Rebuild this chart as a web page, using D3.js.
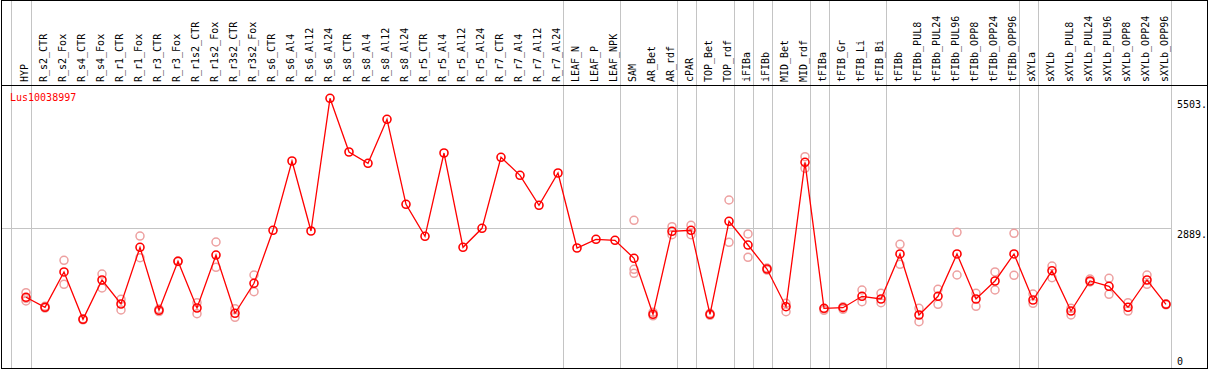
<!DOCTYPE html>
<html>
<head>
<meta charset="utf-8">
<script src="https://cdn.jsdelivr.net/npm/d3@7"></script>
<style>
  body { margin: 0; background: #fff; }
  svg { display: block; }
</style>
</head>
<body>
<div id="chart"></div>
<script>
// expression profile, one gene, means + replicates per sample

const geneName = "Lus10038997";

const samples = ["HYP", "R_s2_CTR", "R_s2_Fox", "R_s4_CTR", "R_s4_Fox", "R_r1_CTR", "R_r1_Fox",
    "R_r3_CTR", "R_r3_Fox", "R_r1s2_CTR", "R_r1s2_Fox", "R_r3s2_CTR", "R_r3s2_Fox",
    "R_s6_CTR", "R_s6_Al4", "R_s6_Al12", "R_s6_Al24", "R_s8_CTR", "R_s8_Al4", "R_s8_Al12", "R_s8_Al24",
    "R_r5_CTR", "R_r5_Al4", "R_r5_Al12", "R_r5_Al24", "R_r7_CTR", "R_r7_Al4", "R_r7_Al12", "R_r7_Al24",
    "LEAF_N", "LEAF_P", "LEAF_NPK", "SAM", "AR_Bet", "AR_rdf", "cPAR", "TOP_Bet", "TOP_rdf",
    "iFIBa", "iFIBb", "MID_Bet", "MID_rdf", "tFIBa", "tFIB_Gr", "tFIB_Li", "tFIB_Bi", "tFIBb",
    "tFIBb_PUL8", "tFIBb_PUL24", "tFIBb_PUL96", "tFIBb_OPP8", "tFIBb_OPP24", "tFIBb_OPP96",
    "sXYLa", "sXYLb", "sXYLb_PUL8", "sXYLb_PUL24", "sXYLb_PUL96", "sXYLb_OPP8", "sXYLb_OPP24", "sXYLb_OPP96"];

const means = [1502, 1301, 2011, 1060, 1850, 1367, 2507,
    1241, 2226, 1287, 2352, 1180, 1783,
    2849, 4242, 2835, 5503, 4423, 4196, 5081, 3372,
    2728, 4403, 2507, 2889, 4317, 3955, 3352, 4001,
    2493, 2668, 2648, 2286, 1160, 2829, 2849, 1160, 3030,
    2553, 2071, 1313, 4216, 1281, 1293, 1522, 1468, 2373,
    1146, 1522, 2373, 1468, 1830, 2373,
    1448, 2037, 1226, 1830, 1723, 1301, 1850, 1361];

const replicates = [
    [1595, 1428, 1480], [1320, 1285], [2246, 1763], [1070, 1050], [1970, 1689], [1462, 1247], [2734, 2298],
    [1267, 1216], [2230, 2220], [1393, 1172], [2614, 2105], [1273, 1100], [1950, 1614],
    [], [], [], [], [], [], [], [],
    [], [], [], [], [], [], [], [],
    [], [], [], [3050, 2065, 1984], [1200, 1130], [2921, 2761], [2949, 2761], [1180, 1140], [3458, 2608],
    [2775, 2306], [2090, 2050], [1381, 1212], [4329, 4096], [1265, 1240], [1310, 1260], [1649, 1413], [1582, 1393], [2568, 2165],
    [1281, 1011], [1663, 1361], [2809, 1950], [1582, 1321], [2011, 1649], [2789, 1944],
    [1568, 1381], [2131, 1896], [1281, 1146], [1870, 1810], [1884, 1562], [1393, 1226], [1950, 1763], [1370, 1350]
];

// last sample of each tissue group (a grid line follows it)
const groupEnds = ["HYP", "R_r7_Al24", "LEAF_NPK", "AR_rdf", "cPAR", "TOP_rdf", "iFIBa", "iFIBb",
    "MID_rdf", "tFIBa", "tFIB_Bi", "tFIBb_OPP96", "sXYLa", "sXYLb_OPP96"];

const yTicks = [5503, 2889, 0];

//--------------------------------------------------
const W = 1209, H = 370;
const headerBottom = 85.5, plotBottom = 368.5;
const monoFont = "'DejaVu Sans Mono', monospace";

const svg = d3.select("#chart")
    .append("svg")
    .attr("width", W)
    .attr("height", H);

const x = d3.scalePoint()
    .domain(samples)
    .range([26, 1166]);

const y = d3.scaleLinear()
    .domain([0, 5503])
    .range([372, 98.3]);

// vertical group lines
const vLines = [x(samples[0]) - 15].concat(groupEnds.map(s => x(s) + 5));
svg.selectAll(".vgrid")
    .data(vLines)
    .join("line")
    .attr("class", "vgrid")
    .attr("x1", d => Math.round(d) + 0.5)
    .attr("x2", d => Math.round(d) + 0.5)
    .attr("y1", 0)
    .attr("y2", plotBottom)
    .attr("stroke", "#c4c4c4")
    .attr("stroke-width", 1);

// horizontal reference line
svg.append("line")
    .attr("x1", 1)
    .attr("x2", x(samples[samples.length - 1]) + 5)
    .attr("y1", Math.round(y(2889)) + 0.5)
    .attr("y2", Math.round(y(2889)) + 0.5)
    .attr("stroke", "#c4c4c4");

// borders
svg.append("rect")
    .attr("x", 1.5).attr("y", 0.5)
    .attr("width", W - 3).attr("height", plotBottom - 0.5)
    .attr("fill", "none")
    .attr("stroke", "#000");

svg.append("line")
    .attr("x1", 1).attr("x2", W - 1)
    .attr("y1", headerBottom).attr("y2", headerBottom)
    .attr("stroke", "#000");

// header labels
svg.selectAll(".slabel")
    .data(samples)
    .join("text")
    .attr("class", "slabel")
    .attr("transform", d => `translate(${x(d) + 1.5},82) rotate(-90)`)
    .attr("font-family", monoFont)
    .attr("font-size", "10px")
    .attr("fill", "#000")
    .text(d => d);

// y labels on the right
svg.selectAll(".ylabel")
    .data(yTicks)
    .join("text")
    .attr("class", "ylabel")
    .attr("x", 1177)
    .attr("y", d => Math.min(y(d) + 10, 365))
    .attr("font-family", monoFont)
    .attr("font-size", "10px")
    .attr("fill", "#000")
    .text(d => d === 0 ? "0" : d + ".");

// gene name
svg.append("text")
    .attr("x", 10)
    .attr("y", 101)
    .attr("font-family", monoFont)
    .attr("font-size", "10px")
    .attr("fill", "#ff0000")
    .text(geneName);

// replicate points
const repPts = [];
samples.forEach((s, i) => replicates[i].forEach(v => repPts.push({ s, v })));

svg.selectAll(".rep")
    .data(repPts)
    .join("circle")
    .attr("class", "rep")
    .attr("cx", d => x(d.s))
    .attr("cy", d => y(d.v))
    .attr("r", 4)
    .attr("fill", "none")
    .attr("stroke", "#eda0a0")
    .attr("stroke-width", 1.5);

// mean line
const pts = samples.map((s, i) => ({ s, v: means[i] }));

svg.append("path")
    .datum(pts)
    .attr("fill", "none")
    .attr("stroke", "#ff0000")
    .attr("stroke-width", 1.3)
    .attr("d", d3.line().x(d => x(d.s)).y(d => y(d.v)));

svg.selectAll(".mean")
    .data(pts)
    .join("circle")
    .attr("class", "mean")
    .attr("cx", d => x(d.s))
    .attr("cy", d => y(d.v))
    .attr("r", 4)
    .attr("fill", "none")
    .attr("stroke", "#ff0000")
    .attr("stroke-width", 1.6);
</script>
</body>
</html>
